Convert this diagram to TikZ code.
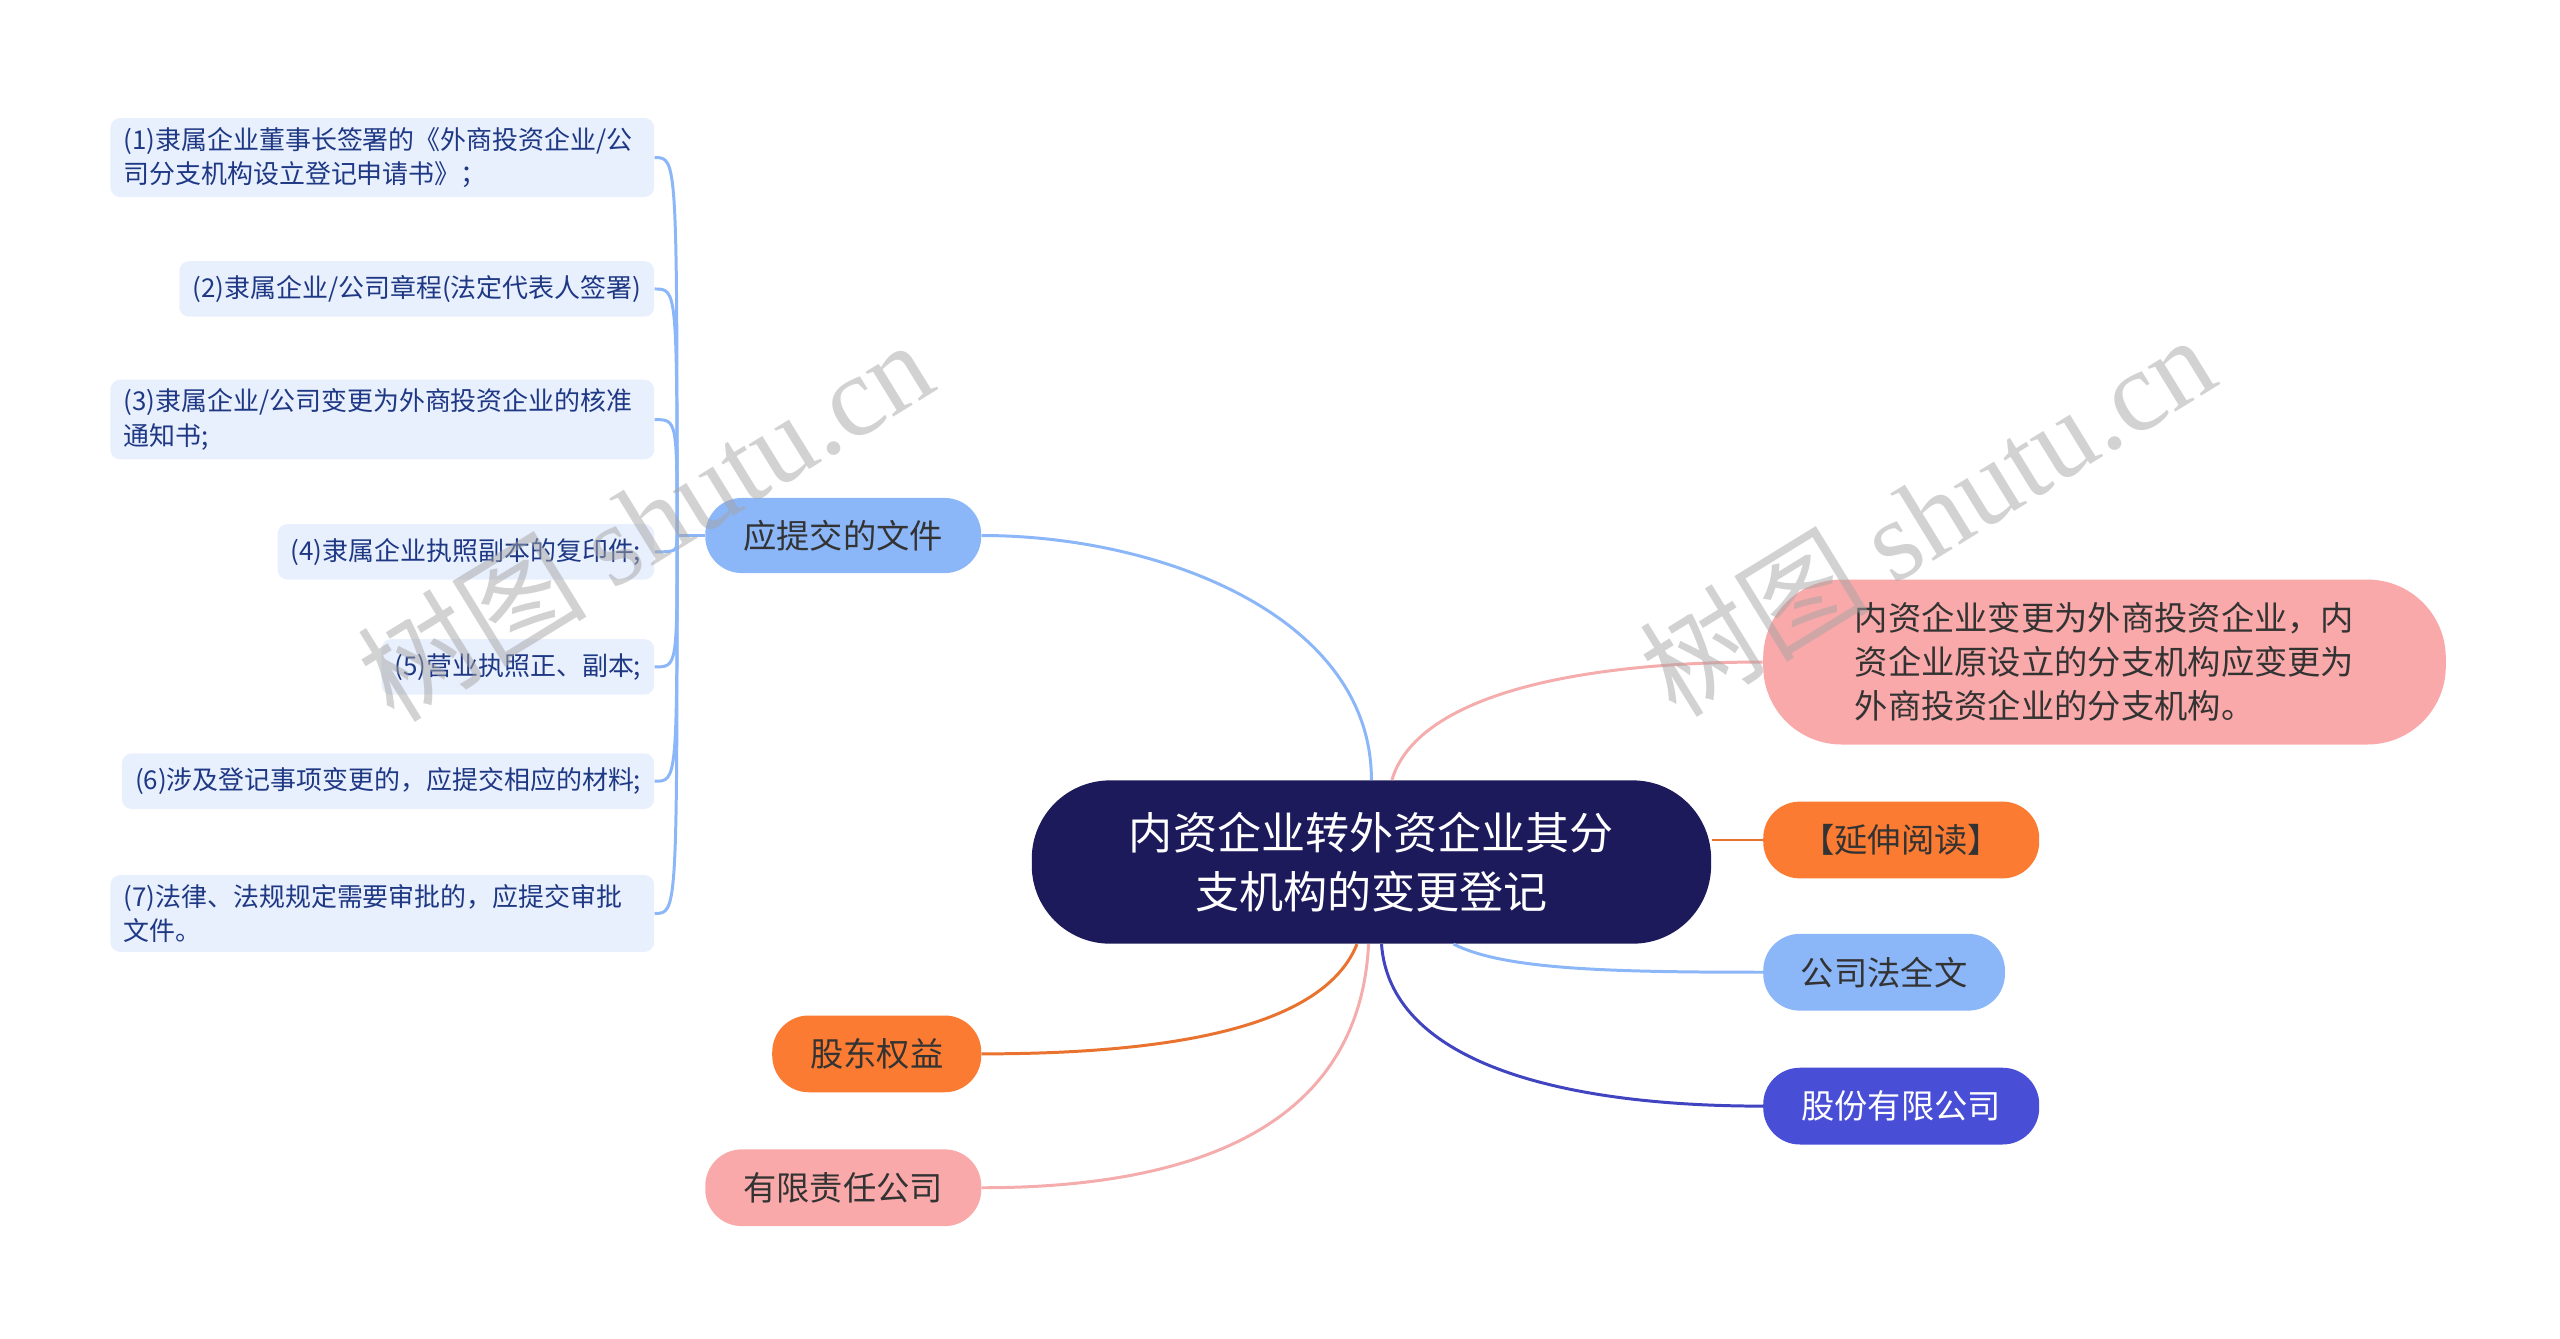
\documentclass[tikz,border=0pt]{standalone}
\usepackage{fontspec}
\setmainfont{Noto Sans CJK SC}
\newfontfamily\wmlatin{Liberation Serif}
\usetikzlibrary{positioning, calc}
\definecolor{Navy}{RGB}{28,26,91}
\definecolor{Pnk}{RGB}{249,169,169}
\definecolor{PnkL}{RGB}{245,172,172}
\definecolor{Org}{RGB}{250,123,49}
\definecolor{OrgL}{RGB}{232,114,46}
\definecolor{LBl}{RGB}{139,182,248}
\definecolor{Blu}{RGB}{73,78,214}
\definecolor{BluL}{RGB}{64,68,192}
\definecolor{LfBg}{RGB}{232,239,253}
\definecolor{LfTx}{RGB}{30,56,132}
\definecolor{DG}{RGB}{51,51,51}
\definecolor{WM}{RGB}{165,165,165}

\begin{document}
\begin{tikzpicture}[
  x=0.025cm, y=-0.025cm,
  root/.style={fill=Navy, text=white, rounded corners=1.2cm,
               minimum width=10.4cm, minimum height=2.5cm, align=center,
               font=\fontsize{19.2}{25.6}\selectfont},
  topic/.style={rounded corners=0.56cm, minimum height=1.175cm,
                text=DG, font=\fontsize{14.5}{19.2}\selectfont},
  leaf/.style={fill=LfBg, text=LfTx, rounded corners=0.15cm, anchor=east,
               align=left, inner xsep=0.2cm, inner ysep=0.14cm,
               minimum height=0.85cm, font=\fontsize{11.3}{15}\selectfont},
  wide/.style={text width=7.925cm},
  link/.style={line width=1.3pt},
  wmark/.style={text=WM, opacity=0.5, rotate=31.6,
                font=\fontsize{50}{50}\selectfont}
]
\useasboundingbox (0,0) rectangle (1568,820);

% central topic
\node[root] (root) at (840,528) {内资企业转外资企业其分\\支机构的变更登记};

% right side
\node[topic, fill=Pnk, minimum width=10.45cm, minimum height=2.525cm,
      rounded corners=1.2cm, align=left] (change) at (1289,405.5)
  {内资企业变更为外商投资企业，内\\资企业原设立的分支机构应变更为\\外商投资企业的分支机构。};
\node[topic, fill=Org, minimum width=4.225cm] (ext) at (1164.5,514.5) {【延伸阅读】};
\node[topic, fill=LBl, minimum width=3.7cm] (law) at (1154,595.5) {公司法全文};
\node[topic, fill=Blu, text=white, minimum width=4.225cm] (corp) at (1164.5,677.5) {股份有限公司};

% left side
\node[topic, fill=LBl, minimum width=4.225cm, minimum height=1.15cm] (docs) at (516.5,328) {应提交的文件};
\node[topic, fill=Org, minimum width=3.2cm] (equity) at (537,645.5) {股东权益};
\node[topic, fill=Pnk, minimum width=4.225cm] (llc) at (516.5,727.5) {有限责任公司};

% leaves of docs
\node[leaf, wide] (leaf1) at (401,96.5) {(1)隶属企业董事长签署的《外商投资企业/公\\司分支机构设立登记申请书》；};
\node[leaf] (leaf2) at (401,177) {(2)隶属企业/公司章程(法定代表人签署)};
\node[leaf, wide] (leaf3) at (401,257) {(3)隶属企业/公司变更为外商投资企业的核准\\通知书;};
\node[leaf] (leaf4) at (401,338) {(4)隶属企业执照副本的复印件;};
\node[leaf] (leaf5) at (401,408.5) {(5)营业执照正、副本;};
\node[leaf] (leaf6) at (401,478.5) {(6)涉及登记事项变更的，应提交相应的材料;};
\node[leaf, wide] (leaf7) at (401,559.5) {(7)法律、法规规定需要审批的，应提交审批\\文件。};

% connectors
\coordinate (hub) at ($(docs.west)+(-17,0)$);
\draw[link, LBl] (docs.west) -- (hub);
\foreach \i in {1,...,7}{
  \draw[link, LBl] (hub) .. controls (hub |- leaf\i.east) and (hub |- leaf\i.east) .. (leaf\i.east);
}
\draw[link, LBl] (root.north) .. controls +(0,-100) and +(110,0) .. (docs.east);
\draw[link, PnkL] (root.76) .. controls +(15,-50) and +(-120,0) .. (change.west);
\draw[link, OrgL] (root.east |- ext.west) -- (ext.west);
\draw[link, LBl] (root.-45) .. controls +(30,15) and +(-100,0) .. (law.west);
\draw[link, BluL] (root.-83) .. controls +(5,70) and +(-130,0) .. (corp.west);
\draw[link, OrgL] (root.-100) .. controls +(-20,50) and +(120,0) .. (equity.east);
\draw[link, PnkL] (root.-92) .. controls +(-5,100) and +(150,0) .. (llc.east);

% watermarks
\node[wmark] (wm1) at (395,318) {树图 {\wmlatin shutu.cn}};
\node[wmark] (wm2) at (1180,315) {树图 {\wmlatin shutu.cn}};
\end{tikzpicture}
\end{document}
